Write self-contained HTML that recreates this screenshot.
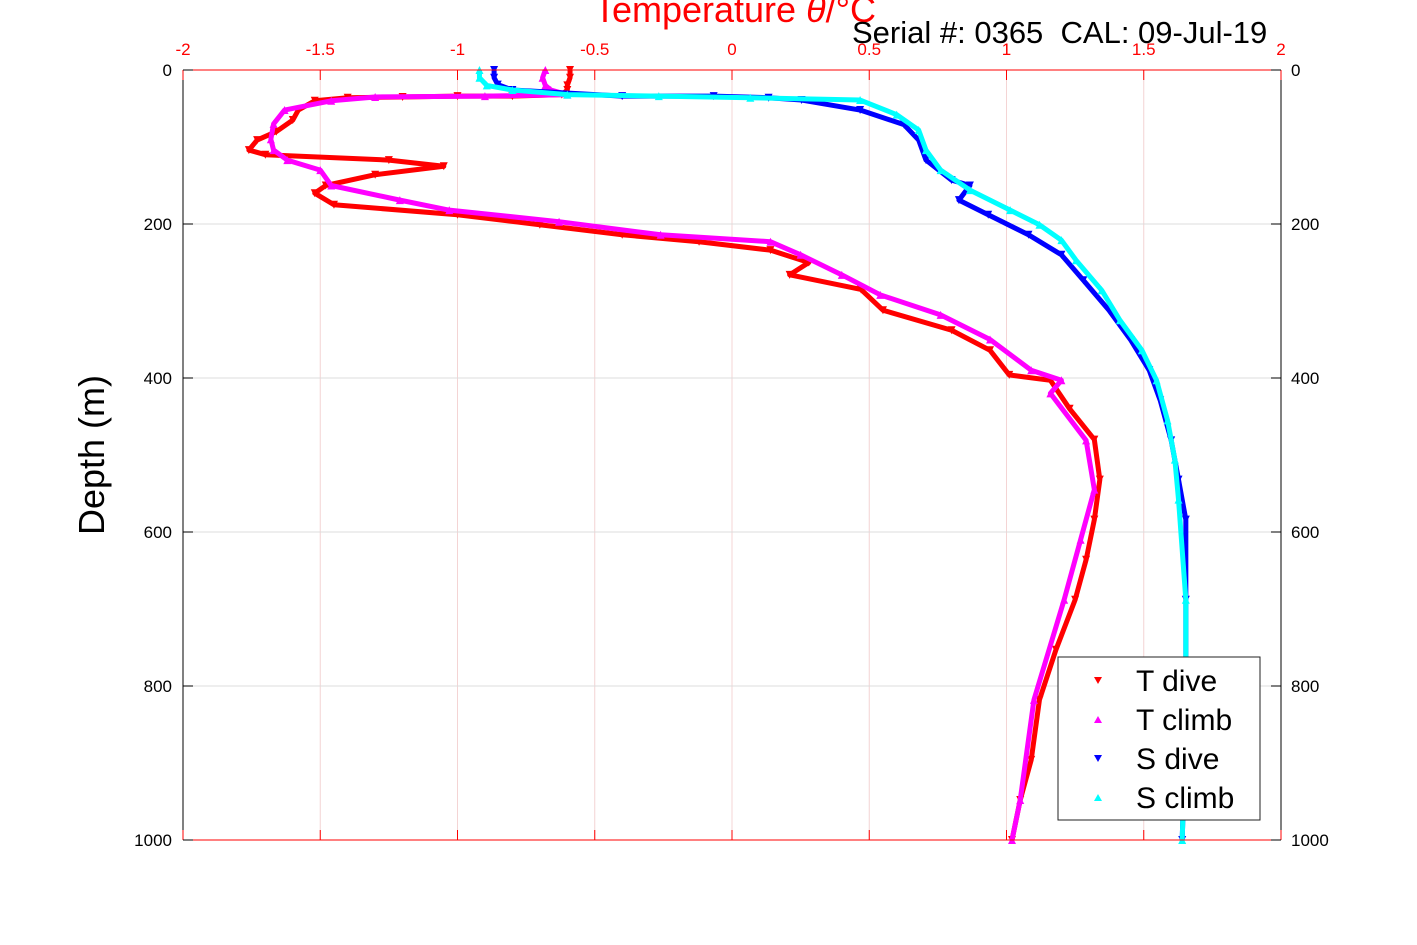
<!DOCTYPE html>
<html><head><meta charset="utf-8"><style>body{margin:0;background:#fff}svg{display:block}text{font-family:"Liberation Sans","DejaVu Sans",sans-serif}</style></head>
<body>
<svg id="c" width="1417" height="945"></svg>
<script>
const tDiveDepth=[0,10,20,26,32,34,34,35,36,40,52,65,80,91,104,110,117,125,136,150,160,175,188,201,214,223,234,250,266,285,312,338,364,396,403,440,480,532,584,636,688,753,818,896,948,1000];
const tDiveVal=[-0.59,-0.59,-0.6,-0.6,-0.62,-0.8,-1.0,-1.2,-1.4,-1.52,-1.58,-1.6,-1.66,-1.73,-1.76,-1.7,-1.25,-1.05,-1.3,-1.48,-1.52,-1.45,-1.0,-0.7,-0.4,-0.12,0.14,0.28,0.21,0.47,0.55,0.8,0.94,1.01,1.16,1.23,1.32,1.34,1.32,1.29,1.25,1.18,1.12,1.09,1.05,1.02];
const tClimbDepth=[0,10,20,26,32,34,35,40,52,70,90,104,117,130,150,169,182,197,214,223,240,266,292,318,350,390,403,420,481,545,610,688,818,948,1000];
const tClimbVal=[-0.68,-0.69,-0.68,-0.66,-0.6,-0.9,-1.3,-1.46,-1.63,-1.67,-1.68,-1.67,-1.62,-1.5,-1.46,-1.21,-1.03,-0.63,-0.26,0.14,0.25,0.4,0.54,0.76,0.94,1.09,1.2,1.16,1.29,1.32,1.27,1.21,1.1,1.05,1.02];
const sDiveDepth=[0,10,19,26,34,34,36,39,52,71,91,117,143,150,169,188,214,240,273,312,351,390,429,481,532,584,688,850,1000];
const sDiveVal=[32.85,32.85,32.86,32.9,33.2,33.45,33.6,33.69,33.85,33.97,34.01,34.03,34.1,34.15,34.12,34.2,34.31,34.4,34.46,34.53,34.59,34.64,34.67,34.7,34.72,34.74,34.74,34.74,34.73];
const sClimbDepth=[0,10,20,26,32,34,36,39,58,78,104,130,156,182,201,221,247,286,325,364,403,455,506,558,688,850,1000];
const sClimbVal=[32.81,32.81,32.83,32.9,33.05,33.3,33.55,33.85,33.95,34.01,34.03,34.07,34.15,34.26,34.34,34.4,34.44,34.51,34.56,34.62,34.66,34.69,34.71,34.72,34.74,34.74,34.73];
const xTicks=[-2,-1.5,-1,-0.5,0,0.5,1,1.5,2];
const yTicks=[0,200,400,600,800,1000];

const NS="http://www.w3.org/2000/svg",svg=document.getElementById('c');
const L=183,R=1281,T=70,B=840;
const xT=v=>L+(v+2)/4*(R-L);
const xS=v=>L+(v-32)/3*(R-L);
const yD=d=>T+d/1000*(B-T);
function el(tag,a,p){const e=document.createElementNS(NS,tag);for(const k in a)e.setAttribute(k,a[k]);(p||svg).appendChild(e);return e;}
xTicks.forEach(v=>{const g=el('line',{x1:xT(v),x2:xT(v),y1:T,y2:B,stroke:'#f4d4d4','stroke-width':1});
});
yTicks.forEach(v=>{const g=el('line',{x1:L,x2:R,y1:yD(v),y2:yD(v),stroke:'#dcdcdc','stroke-width':1});
});
function series(dep,val,xf,color,down,name){
  const g=el('g',{});
  const pts=dep.map((d,i)=>xf(val[i])+','+yD(d)).join(' ');
  el('polyline',{points:pts,fill:'none',stroke:color,'stroke-width':5,'stroke-linejoin':'round'},g);
  dep.forEach((d,i)=>{const x=xf(val[i]),y=yD(d),s=4;
    const p=down?`${x-s},${y-s} ${x+s},${y-s} ${x},${y+s}`:`${x-s},${y+s} ${x+s},${y+s} ${x},${y-s}`;
    const m=el('polygon',{points:p,fill:color},g);
    });
}
series(tDiveDepth,tDiveVal,xT,'#ff0000',true,'t-dive-series');
series(tClimbDepth,tClimbVal,xT,'#ff00ff',false,'t-climb-series');
series(sDiveDepth,sDiveVal,xS,'#0000ff',true,'s-dive-series');
series(sClimbDepth,sClimbVal,xS,'#00ffff',false,'s-climb-series');
// axes
el('line',{x1:L,x2:R,y1:T,y2:T,stroke:'#f00'});el('line',{x1:L,x2:R,y1:B,y2:B,stroke:'#f00'});
el('line',{x1:L,x2:L,y1:T,y2:B,stroke:'#000'});el('line',{x1:R,x2:R,y1:T,y2:B,stroke:'#000'});
xTicks.forEach(v=>{const x=xT(v);el('line',{x1:x,x2:x,y1:T,y2:T+10,stroke:'#f00'});el('line',{x1:x,x2:x,y1:B,y2:B-10,stroke:'#f00'});
 const t=el('text',{x:x,y:55,'text-anchor':'middle','font-size':17,fill:'#f00'});t.textContent=String(v);
 });
yTicks.forEach(v=>{const y=yD(v);el('line',{x1:L,x2:L+10,y1:y,y2:y,stroke:'#000'});el('line',{x1:R,x2:R-10,y1:y,y2:y,stroke:'#000'});
 const t=el('text',{x:172,y:y+6,'text-anchor':'end','font-size':17});t.textContent=String(v);
 
 const t2=el('text',{x:1291,y:y+6,'font-size':17});t2.textContent=String(v);
 });
</script>
<svg width="1417" height="945" style="position:absolute;left:0;top:0">
<text x="735" y="22" text-anchor="middle" font-size="36" fill="#f00" style="font-family:'Liberation Sans',sans-serif">Temperature <tspan font-style="italic">θ</tspan>/°C</text>
<text x="852" y="43" font-size="31" fill="#000" style="font-family:'Liberation Sans',sans-serif;white-space:pre">Serial #: 0365  CAL: 09-Jul-19</text>
<text transform="translate(104,455) rotate(-90)" text-anchor="middle" font-size="36" style="font-family:'Liberation Sans',sans-serif">Depth (m)</text>
<g>
<rect x="1058" y="657" width="202" height="163" fill="#fff" stroke="#222" stroke-width="1"/>
<polygon points="1094,677 1102,677 1098,684" fill="#f00"/><text x="1136" y="691" font-size="30" style="font-family:'Liberation Sans',sans-serif">T dive</text>
<polygon points="1094,723 1102,723 1098,716" fill="#f0f"/><text x="1136" y="730" font-size="30" style="font-family:'Liberation Sans',sans-serif">T climb</text>
<polygon points="1094,755 1102,755 1098,762" fill="#00f"/><text x="1136" y="769" font-size="30" style="font-family:'Liberation Sans',sans-serif">S dive</text>
<polygon points="1094,801 1102,801 1098,794" fill="#0ff"/><text x="1136" y="808" font-size="30" style="font-family:'Liberation Sans',sans-serif">S climb</text>
</g>
</svg>
</body></html>
